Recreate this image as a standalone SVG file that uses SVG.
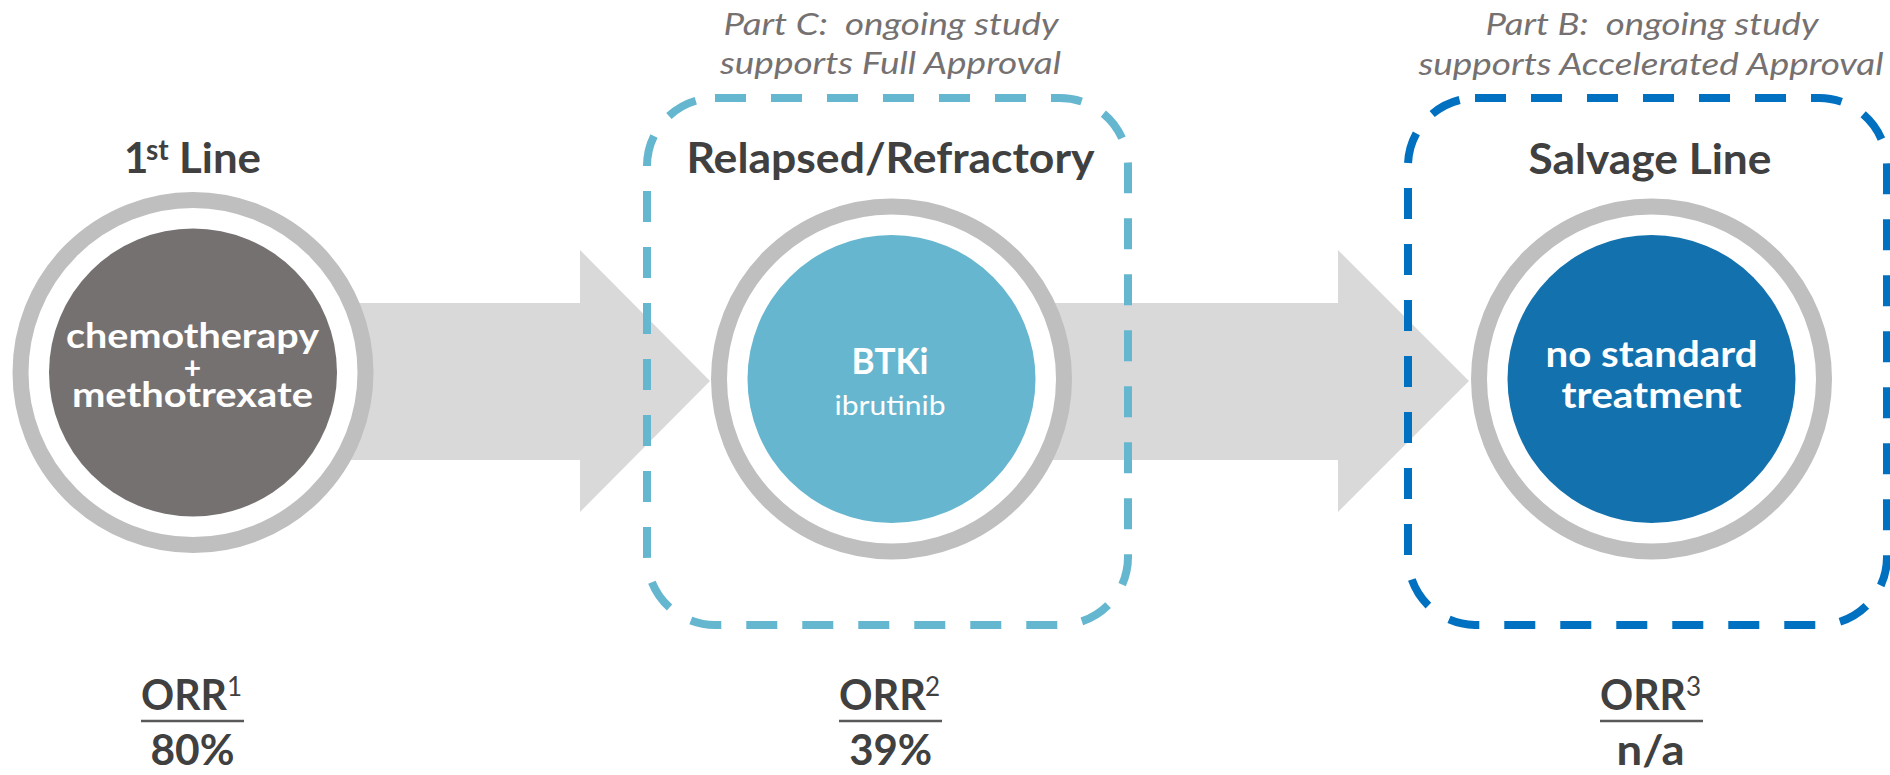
<svg xmlns="http://www.w3.org/2000/svg" width="1890" height="775" viewBox="0 0 1890 775">
  <style>
    .hdr { font-family: Lato, "Open Sans", sans-serif; font-weight: 700; font-size: 42px; fill: #404040; }
    .sup { font-family: Lato, "Open Sans", sans-serif; font-size: 26px; fill: #404040; }
    .note { font-family: Lato, "Open Sans", sans-serif; font-style: italic; font-size: 30px; fill: #767171; }
    .inb { font-family: Lato, "Open Sans", sans-serif; font-weight: 700; fill: #ffffff; }
    .inr { font-family: Lato, "Open Sans", sans-serif; font-weight: 400; fill: #ffffff; }
    .ring { fill: #ffffff; stroke: #bfbfbf; stroke-width: 16; }
    .arrow { fill: #d9d9d9; }
    .box { fill: none; stroke-width: 8; stroke-dasharray: 31 25; }
    .rule { stroke: #595959; stroke-width: 2.5; }
  </style>

  <!-- block arrows between stages -->
  <g id="connectors">
    <polygon class="arrow" points="300,303 580,303 580,250 710,381 580,512 580,460 300,460"/>
    <polygon class="arrow" points="1000,303 1338,303 1338,250 1469,381 1338,512 1338,460 1000,460"/>
  </g>

  <!-- stage 1: first line -->
  <g id="node-first-line">
    <text class="hdr" x="124" y="173">1</text>
    <text class="hdr" x="146" y="160" style="font-size:28px">st</text>
    <text class="hdr" x="179" y="173" textLength="82" lengthAdjust="spacingAndGlyphs">Line</text>
    <circle class="ring" cx="193" cy="372.5" r="172.5"/>
    <circle cx="193" cy="372.5" r="144" fill="#767171"/>
    <text class="inb" x="192.5" y="348" text-anchor="middle" font-size="35" textLength="253" lengthAdjust="spacingAndGlyphs">chemotherapy</text>
    <text class="inb" x="192.5" y="379" text-anchor="middle" font-size="30">+</text>
    <text class="inb" x="192.5" y="407" text-anchor="middle" font-size="35" textLength="241" lengthAdjust="spacingAndGlyphs">methotrexate</text>
    <text class="hdr" x="141" y="710" textLength="86" lengthAdjust="spacingAndGlyphs">ORR</text>
    <text class="sup" x="227" y="696">1</text>
    <line class="rule" x1="141" y1="721" x2="244" y2="721"/>
    <text class="hdr" x="192.5" y="765" text-anchor="middle" textLength="84" lengthAdjust="spacingAndGlyphs">80%</text>
  </g>

  <!-- stage 2: relapsed / refractory -->
  <g id="node-relapsed">
    <path class="box" stroke="#65b6cf" d="M715,98 H1060 A68,68 0 0 1 1128,166 V557 A68,68 0 0 1 1060,625 H715 A68,68 0 0 1 647,557 V166 A68,68 0 0 1 715,98 Z"/>
    <text class="note" xml:space="preserve" x="891" y="35" text-anchor="middle" textLength="335" lengthAdjust="spacingAndGlyphs">Part C:  ongoing study</text>
    <text class="note" x="890.5" y="74" text-anchor="middle" textLength="341" lengthAdjust="spacingAndGlyphs">supports Full Approval</text>
    <text class="hdr" x="890.5" y="173" text-anchor="middle" textLength="408" lengthAdjust="spacingAndGlyphs">Relapsed/Refractory</text>
    <circle class="ring" cx="891.5" cy="379" r="172.5"/>
    <circle cx="891.5" cy="379" r="144" fill="#66b6cf"/>
    <text class="inb" x="890" y="374" text-anchor="middle" font-size="36" textLength="77" lengthAdjust="spacingAndGlyphs">BTKi</text>
    <text class="inr" x="890" y="415" text-anchor="middle" font-size="27" textLength="111" lengthAdjust="spacingAndGlyphs">ibrutinib</text>
    <text class="hdr" x="839" y="710" textLength="87" lengthAdjust="spacingAndGlyphs">ORR</text>
    <text class="sup" x="925" y="696">2</text>
    <line class="rule" x1="839" y1="721" x2="942" y2="721"/>
    <text class="hdr" x="890.7" y="765" text-anchor="middle" textLength="83" lengthAdjust="spacingAndGlyphs">39%</text>
  </g>

  <!-- stage 3: salvage line -->
  <g id="node-salvage">
    <path class="box" stroke="#0070c0" d="M1475,98 H1819 A68,68 0 0 1 1887,166 V557 A68,68 0 0 1 1819,625 H1475 A68,68 0 0 1 1408,557 V166 A68,68 0 0 1 1475,98 Z"/>
    <text class="note" xml:space="preserve" x="1652" y="35" text-anchor="middle" textLength="333" lengthAdjust="spacingAndGlyphs">Part B:  ongoing study</text>
    <text class="note" x="1651" y="75" text-anchor="middle" textLength="465" lengthAdjust="spacingAndGlyphs">supports Accelerated Approval</text>
    <text class="hdr" x="1650" y="174" text-anchor="middle" textLength="243" lengthAdjust="spacingAndGlyphs">Salvage Line</text>
    <circle class="ring" cx="1651.5" cy="379" r="172.5"/>
    <circle cx="1651.5" cy="379" r="144" fill="#1371ad"/>
    <text class="inb" x="1651.5" y="367" text-anchor="middle" font-size="37" textLength="212" lengthAdjust="spacingAndGlyphs">no standard</text>
    <text class="inb" x="1651.5" y="408" text-anchor="middle" font-size="37" textLength="180" lengthAdjust="spacingAndGlyphs">treatment</text>
    <text class="hdr" x="1600" y="710" textLength="86" lengthAdjust="spacingAndGlyphs">ORR</text>
    <text class="sup" x="1686" y="696">3</text>
    <line class="rule" x1="1600" y1="721" x2="1703" y2="721"/>
    <text class="hdr" x="1650.5" y="765" text-anchor="middle" textLength="68" lengthAdjust="spacingAndGlyphs">n/a</text>
  </g>
</svg>
